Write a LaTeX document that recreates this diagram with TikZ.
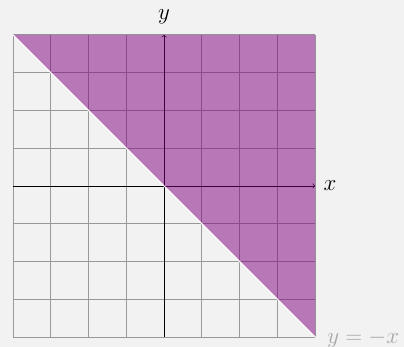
\documentclass[tikz,border=0pt]{standalone}
\definecolor{halfplane}{RGB}{128,0,128}
\begin{document}
\begin{tikzpicture}[x=1cm,y=1cm]
\useasboundingbox[fill={rgb,255:red,242;green,242;blue,242}] (-4.34,-4.26) rectangle (6.35,4.92);
\draw[gray!80,line width=0.5pt] (-4,-4) grid (4,4);
\draw[->,line width=0.5pt] (-4,0) -- (4,0);
\draw[->,line width=0.5pt] (0,-4) -- (0,4);
\fill[halfplane,fill opacity=0.5] (-4,4) -- (4,4) -- (4,-4) -- cycle;
\draw[white,line width=0.8pt] (-4,4) -- (4,-4);
\node[font=\LARGE] (ylab) at (0,4.48) {$y$};
\node[font=\LARGE,anchor=west] (xlab) at (4.1,0) {$x$};
\node[font=\LARGE,anchor=west,text=gray!70] (line) at (4.2,-4.05) {$y=-x$};
\end{tikzpicture}
\end{document}
